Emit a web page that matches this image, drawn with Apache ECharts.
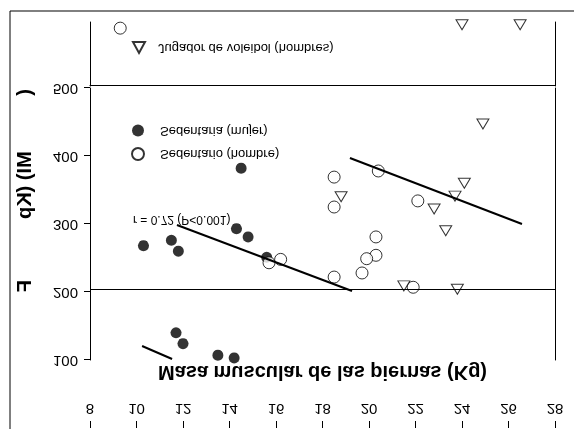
<!DOCTYPE html>
<html>
<head>
<meta charset="utf-8">
<script src="https://cdn.jsdelivr.net/npm/echarts@6/dist/echarts.min.js"></script>
<style>
html,body{margin:0;padding:0;background:#fff;}
#chart{width:574px;height:429px;transform:scaleY(-1);}
</style>
</head>
<body>
<div id="chart"></div>
<script>
// ---- data (x: Masa muscular de las piernas, Kg ; y: fuerza, Kp) ----
const xTicks = [8, 10, 12, 14, 16, 18, 20, 22, 24, 26, 28];
const yTicks = [100, 200, 300, 400, 500];
const sedentariaMujer = [[10.3,268],[11.5,276],[11.8,260],[14.5,382],[14.3,293],[14.8,281],[15.6,251],
                         [11.7,140],[12.0,124],[13.5,107],[14.2,103]];
const sedentarioHombre = [[15.7,243],[16.2,248],[18.5,369],[18.5,325],[20.4,378],[22.1,334],[20.3,281],
                          [20.3,254],[19.9,249],[19.7,228],[18.5,222],[21.9,207]];
const jugadorVoleibol = [[18.8,340],[22.8,322],[24.1,360],[23.7,341],[23.3,290],[24.9,447],[21.5,209],[23.8,204]];
const topHombre = [[9.3,585]];
const topJugador = [[24.0,590],[26.5,590]];
const lineaMujerA = [[11.74,298.5],[19.27,201.5]];
const lineaMujerB = [[10.24,120.6],[11.53,101.5]];
const lineaHombre = [[19.18,397],[26.58,300]];
const legendNames = ['Sedentario (hombre)','Sedentaria (mujer)','Jugador de voleibol (hombres)'];
const xName = 'Masa muscular de las piernas (Kg)';
const yName = '(          MI) (Kp           F            ';
const rText = 'r = 0.72 (P<0.001)';

const FONT = 'Liberation Sans, Arial, sans-serif';
const chart = echarts.init(document.getElementById('chart'));
const black = '#000';
const openStyle = {color:'#fff', borderColor:black, borderWidth:1};

const option = {
  animation:false,
  backgroundColor:'#fff',
  textStyle:{fontFamily:FONT},
  grid:[
    {left:90, right:19, top:69, height:272, outerBoundsMode:'none', containLabel:false},
    {left:90, right:19, top:343, height:64, outerBoundsMode:'none', containLabel:false}
  ],
  legend:[
    {data:[legendNames[0],legendNames[1]], orient:'vertical', left:131, top:268, padding:0,
     itemWidth:34, itemHeight:12, itemGap:10, textStyle:{color:black,fontSize:13,fontFamily:FONT}},
    {data:[legendNames[2]], orient:'vertical', left:132, top:375, padding:0,
     itemWidth:12, itemHeight:11, textStyle:{color:black,fontSize:13,fontFamily:FONT,padding:[0,0,0,8]}}
  ],
  xAxis:[
    {gridIndex:0, type:'value', min:8, max:28, interval:2, position:'top', offset:68,
     axisLine:{show:false}, axisTick:{show:true, inside:true, length:7, lineStyle:{color:black}},
     axisLabel:{inside:true, margin:12, fontSize:15, color:black, fontFamily:FONT,
       formatter:(v)=> xTicks.includes(v) ? String(v) : ''},
     splitLine:{show:false},
     name:xName, nameLocation:'middle', nameGap:-56,
     nameTextStyle:{fontSize:20, fontWeight:'bold', color:black, verticalAlign:'middle', fontFamily:FONT}},
    {gridIndex:1, type:'value', min:8, max:28, position:'top',
     axisLine:{show:true, lineStyle:{color:black,width:1}}, axisTick:{show:false}, axisLabel:{show:false}, splitLine:{show:false}}
  ],
  yAxis:[
    {gridIndex:0, type:'value', min:100, max:500, interval:100, inverse:true, position:'left',
     axisLine:{show:true, lineStyle:{color:black,width:1}}, axisTick:{show:true, length:6, lineStyle:{color:black}},
     axisLabel:{margin:12, fontSize:15, color:black, fontFamily:FONT,
       formatter:(v)=> yTicks.includes(v) ? String(v) : ''},
     splitLine:{show:false},
     name:yName, nameLocation:'middle', nameRotate:90, nameGap:55,
     nameTextStyle:{fontSize:20, fontWeight:'bold', color:black, fontFamily:FONT}},
    {gridIndex:0, type:'value', min:100, max:500, inverse:true, position:'right',
     axisLine:{show:true, lineStyle:{color:black,width:1}}, axisTick:{show:false}, axisLabel:{show:false}, splitLine:{show:false}},
    {gridIndex:1, type:'value', min:500, max:594, inverse:true, position:'left',
     axisLine:{show:true, lineStyle:{color:black,width:1}}, axisTick:{show:false}, axisLabel:{show:false}, splitLine:{show:false}},
    {gridIndex:1, type:'value', min:500, max:594, inverse:true, position:'right',
     axisLine:{show:true, lineStyle:{color:black,width:1}}, axisTick:{show:false}, axisLabel:{show:false}, splitLine:{show:false}}
  ],
  series:[
    {name:legendNames[1], type:'scatter', xAxisIndex:0, yAxisIndex:0, data:sedentariaMujer,
     symbol:'circle', symbolSize:11, itemStyle:{color:black}},
    {name:legendNames[0], type:'scatter', xAxisIndex:0, yAxisIndex:0, data:sedentarioHombre,
     symbol:'circle', symbolSize:12, itemStyle:openStyle},
    {name:legendNames[2], type:'scatter', xAxisIndex:0, yAxisIndex:0, data:jugadorVoleibol,
     symbol:'triangle', symbolSize:[12,10], itemStyle:openStyle},
    {name:legendNames[0], type:'scatter', xAxisIndex:1, yAxisIndex:2, data:topHombre,
     symbol:'circle', symbolSize:12, itemStyle:openStyle},
    {name:legendNames[2], type:'scatter', xAxisIndex:1, yAxisIndex:2, data:topJugador,
     symbol:'triangle', symbolSize:[12,10], itemStyle:openStyle},
    {name:'lineaMujerA', type:'line', xAxisIndex:0, yAxisIndex:0, data:lineaMujerA, showSymbol:false, silent:true,
     lineStyle:{color:black,width:2},
     markLine:{silent:true, symbol:'none', label:{show:false}, lineStyle:{color:black,width:1,type:'solid'}, data:[{yAxis:203}]}},
    {name:'lineaMujerB', type:'line', xAxisIndex:0, yAxisIndex:0, data:lineaMujerB, showSymbol:false, silent:true,
     lineStyle:{color:black,width:2}},
    {name:'lineaHombre', type:'line', xAxisIndex:0, yAxisIndex:0, data:lineaHombre, showSymbol:false, silent:true,
     lineStyle:{color:black,width:2}}
  ],
  graphic:[
    {type:'polyline', silent:true, shape:{points:[[10,0],[10,418],[574,418]]}, style:{stroke:black, lineWidth:1, fill:null}},
    {type:'text', silent:true, left:133, top:204, style:{text:rText, fill:black, fontSize:12, fontFamily:FONT}}
  ]
};
chart.setOption(option);
</script>
</body>
</html>
